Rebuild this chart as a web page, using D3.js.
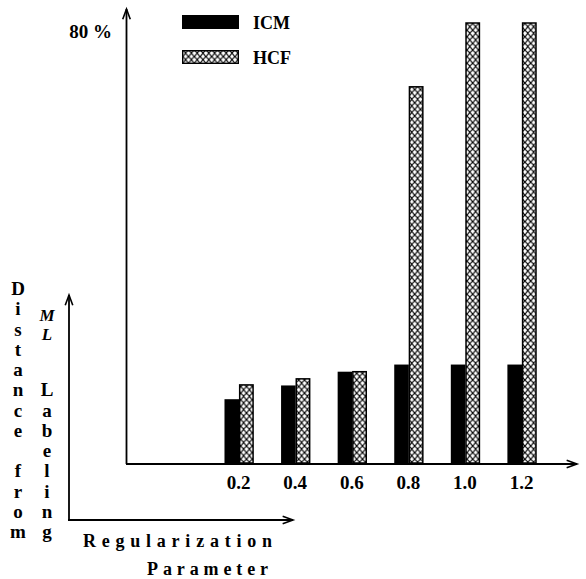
<!DOCTYPE html>
<html lang="en">
<head>
<meta charset="utf-8">
<title>ICM vs HCF</title>
<script src="https://cdnjs.cloudflare.com/ajax/libs/d3/7.8.5/d3.min.js"></script>
<style>
  body { margin: 0; background: #fff; }
  text { font-family: "Liberation Serif", "Times New Roman", serif; font-weight: bold; fill: #000; }
</style>
</head>
<body>
<script>
// data (percent)
var params = ["0.2", "0.4", "0.6", "0.8", "1.0", "1.2"];
var paramValues = [0.2, 0.4, 0.6, 0.8, 1.0, 1.2];
var icm = [11.6, 14.1, 16.6, 17.9, 17.9, 17.9];
var hcf = [14.2, 15.3, 16.6, 68.4, 80, 80];
var yTicks = [80];
var seriesNames = ["ICM", "HCF"];

var width = 586, height = 579;

var svg = d3.select("body").append("svg")
    .attr("width", width)
    .attr("height", height);

// chain-link hatch for HCF
var pw = 5.8, ph = 6.6;
var pat = svg.append("defs").append("pattern")
    .attr("id", "hatch")
    .attr("patternUnits", "userSpaceOnUse")
    .attr("width", pw)
    .attr("height", ph);
pat.append("rect").attr("width", pw).attr("height", ph).attr("fill", "#fff");
pat.append("path")
    .attr("d", "M0,0 Q" + pw * 0.3 + "," + ph / 2 + " " + pw + "," + ph +
        " M" + pw + ",0 Q" + pw * 0.7 + "," + ph / 2 + " 0," + ph)
    .attr("fill", "none")
    .attr("stroke", "#000")
    .attr("stroke-width", 1.05);

var x = d3.scaleLinear().domain([0, 1.2]).range([182.5, 522]);
var y = d3.scaleLinear().domain([0, 80]).range([463, 23]);
var barW = 14.6;

function arrowLine(g, x1, y1, x2, y2) {
    g.append("line")
        .attr("x1", x1).attr("y1", y1).attr("x2", x2).attr("y2", y2)
        .attr("stroke", "#000").attr("stroke-width", 1.8);
    var a = Math.atan2(y2 - y1, x2 - x1), L = 11, s = 0.35;
    g.append("path")
        .attr("d", "M" + (x2 - L * Math.cos(a - s)) + "," + (y2 - L * Math.sin(a - s)) +
            "L" + x2 + "," + y2 +
            "L" + (x2 - L * Math.cos(a + s)) + "," + (y2 - L * Math.sin(a + s)))
        .attr("fill", "none").attr("stroke", "#000").attr("stroke-width", 1.6);
}

// bars
svg.selectAll(".icm").data(icm).enter().append("rect")
    .attr("class", "icm")
    .attr("x", function(d, i) { return x(paramValues[i]) - barW; })
    .attr("y", function(d) { return y(d); })
    .attr("width", barW)
    .attr("height", function(d) { return y(0) - y(d); })
    .attr("fill", "#000");

svg.selectAll(".hcf").data(hcf).enter().append("rect")
    .attr("class", "hcf")
    .attr("x", function(d, i) { return x(paramValues[i]) + 0.6; })
    .attr("y", function(d) { return y(d); })
    .attr("width", barW - 1.2)
    .attr("height", function(d) { return y(0) - y(d); })
    .attr("fill", "url(#hatch)")
    .attr("stroke", "#000")
    .attr("stroke-width", 1.5);

// axes
var axes = svg.append("g");
arrowLine(axes, 126, 464, 577, 464);
arrowLine(axes, 126.5, 464, 126.5, 9);

var xAxis = svg.append("g")
    .attr("transform", "translate(0," + y(0) + ")")
    .call(d3.axisBottom(x).tickValues(paramValues)
        .tickFormat(function(d, i) { return params[i]; })
        .tickSize(0).tickPadding(13));
xAxis.select(".domain").remove();
xAxis.selectAll("text").style("font-size", "19px").attr("dx", "-1");

var yAxis = svg.append("g")
    .attr("transform", "translate(126,0)")
    .call(d3.axisLeft(y).tickValues(yTicks)
        .tickFormat(function(d) { return d + " %"; })
        .tickSize(0).tickPadding(14));
yAxis.select(".domain").remove();
yAxis.selectAll("text").style("font-size", "19px").attr("dy", "14");

// legend
var legend = svg.append("g");
seriesNames.forEach(function(name, i) {
    var ly = 15 + i * 35;
    legend.append("rect")
        .attr("x", i ? 182.7 : 182).attr("y", ly + (i ? 0.7 : 0))
        .attr("width", i ? 55.6 : 57).attr("height", i ? 12.6 : 14)
        .attr("fill", i ? "url(#hatch)" : "#000")
        .attr("stroke", i ? "#000" : "none")
        .attr("stroke-width", 1.4);
    legend.append("text")
        .attr("x", 253).attr("y", ly + 14)
        .style("font-size", "18px")
        .text(name);
});

// schematic axes at lower left
var schem = svg.append("g");
arrowLine(schem, 68, 520, 293, 520);
arrowLine(schem, 69, 520, 69, 295);

var step = 20.25;
var col1 = "Distance from".split("");
schem.selectAll(".c1").data(col1).enter().append("text")
    .attr("x", 18).attr("y", function(d, i) { return 295 + i * step; })
    .attr("text-anchor", "middle")
    .style("font-size", "19px")
    .text(function(d) { return d; });

var col2 = "Labeling".split("");
schem.selectAll(".c2").data(col2).enter().append("text")
    .attr("x", 47).attr("y", function(d, i) { return 295 + (i + 5) * step; })
    .attr("text-anchor", "middle")
    .style("font-size", "19px")
    .text(function(d) { return d; });

schem.selectAll(".ml").data(["M", "L"]).enter().append("text")
    .attr("x", 47).attr("y", function(d, i) { return 321 + i * 19; })
    .attr("text-anchor", "middle")
    .style("font-size", "17px")
    .style("font-style", "italic")
    .text(function(d) { return d; });

schem.append("text")
    .attr("x", 83).attr("y", 547)
    .attr("textLength", 189).attr("lengthAdjust", "spacing")
    .style("font-size", "18px")
    .text("Regularization");

schem.append("text")
    .attr("x", 147).attr("y", 575)
    .attr("textLength", 121).attr("lengthAdjust", "spacing")
    .style("font-size", "18px")
    .text("Parameter");
</script>
</body>
</html>
